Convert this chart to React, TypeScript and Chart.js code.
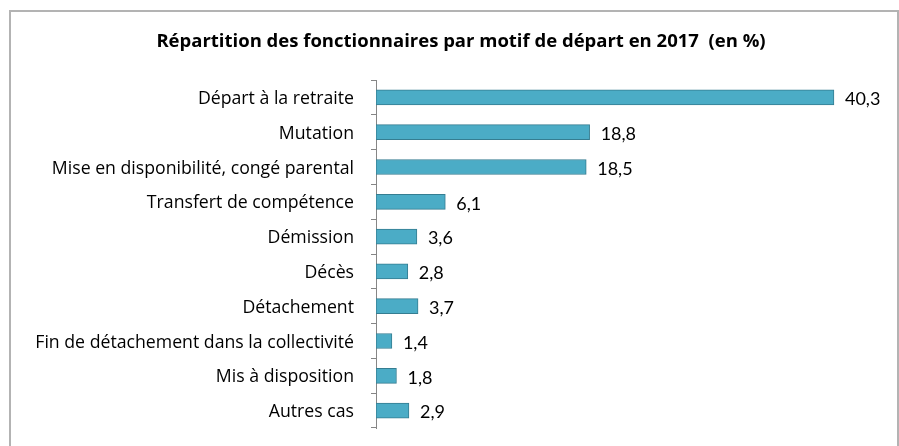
import React, { useEffect, useRef } from "react";
import { Chart, registerables } from "chart.js";

Chart.register(...registerables);

const TITLE = "Répartition des fonctionnaires par motif de départ en 2017  (en %)";

const categories = [
  "Départ à la retraite",
  "Mutation",
  "Mise en disponibilité, congé parental",
  "Transfert de compétence",
  "Démission",
  "Décès",
  "Détachement",
  "Fin de détachement dans la collectivité",
  "Mis à disposition",
  "Autres cas",
];

const values = [40.3, 18.8, 18.5, 6.1, 3.6, 2.8, 3.7, 1.4, 1.8, 2.9];

const X_MAX = 44;

const FONT = "'Open Sans', 'Liberation Sans', sans-serif";
const LFONT = "Lato, 'Liberation Sans', sans-serif";

const titlePlugin = {
  id: "customTitle",
  afterDraw(chart: any) {
    const ctx = chart.ctx;
    ctx.save();
    ctx.font = `bold 18.5px ${FONT}`;
    ctx.fillStyle = "#000";
    ctx.textAlign = "center";
    ctx.textBaseline = "alphabetic";
    ctx.fillText(TITLE, 450, 35);
    ctx.restore();
  },
};

const labelPlugin = {
  id: "valueLabels",
  afterDatasetsDraw(chart: any) {
    const ctx = chart.ctx;
    const meta = chart.getDatasetMeta(0);
    ctx.save();
    ctx.font = `18px ${LFONT}`;
    ctx.fillStyle = "#000";
    ctx.textAlign = "left";
    ctx.textBaseline = "middle";
    meta.data.forEach((bar: any, i: number) => {
      const txt = values[i].toFixed(1).replace(".", ",");
      ctx.fillText(txt, bar.x + 11, bar.y + 2);
    });
    ctx.restore();
  },
};

export default function App() {
  const ref = useRef<HTMLCanvasElement | null>(null);
  useEffect(() => {
    if (!ref.current) return;
    const chart = new Chart(ref.current, {
      type: "bar",
      data: {
        labels: categories,
        datasets: [
          {
            data: values,
            backgroundColor: "#4bacc6",
            borderColor: "#357d91",
            borderWidth: 1,
            borderSkipped: false,
            barThickness: 15,
          },
        ],
      },
      options: {
        indexAxis: "y",
        animation: false,
        responsive: false,
        maintainAspectRatio: false,
        layout: { padding: { left: 0, right: 21, top: 68, bottom: 20 } },
        plugins: {
          legend: { display: false },
          title: { display: false },
          tooltip: { enabled: false },
        },
        scales: {
          x: { display: false, min: 0, max: X_MAX },
          y: {
            afterFit(scale: any) {
              scale.width = 365;
              scale.paddingTop = 0;
              scale.paddingBottom = 0;
            },
            grid: {
              display: true,
              drawOnChartArea: false,
              drawTicks: true,
              tickLength: 5,
              color: "#868686",
              offset: true,
            },
            border: { display: true, color: "#868686", width: 1 },
            ticks: {
              color: "#000",
              padding: 17,
              labelOffset: 1.5,
              font: { family: FONT, size: 17.7 },
              autoSkip: false,
            },
          },
        },
      },
      plugins: [titlePlugin, labelPlugin],
    });
    return () => chart.destroy();
  }, []);
  return (
    <div
      style={{
        position: "absolute",
        left: 9,
        top: 10,
        width: 890,
        height: 450,
        border: "2px solid #b3b3b3",
        boxSizing: "border-box",
        background: "#fff",
      }}
    >
      <canvas ref={ref} width={886} height={436} style={{ display: "block" }} />
    </div>
  );
}
